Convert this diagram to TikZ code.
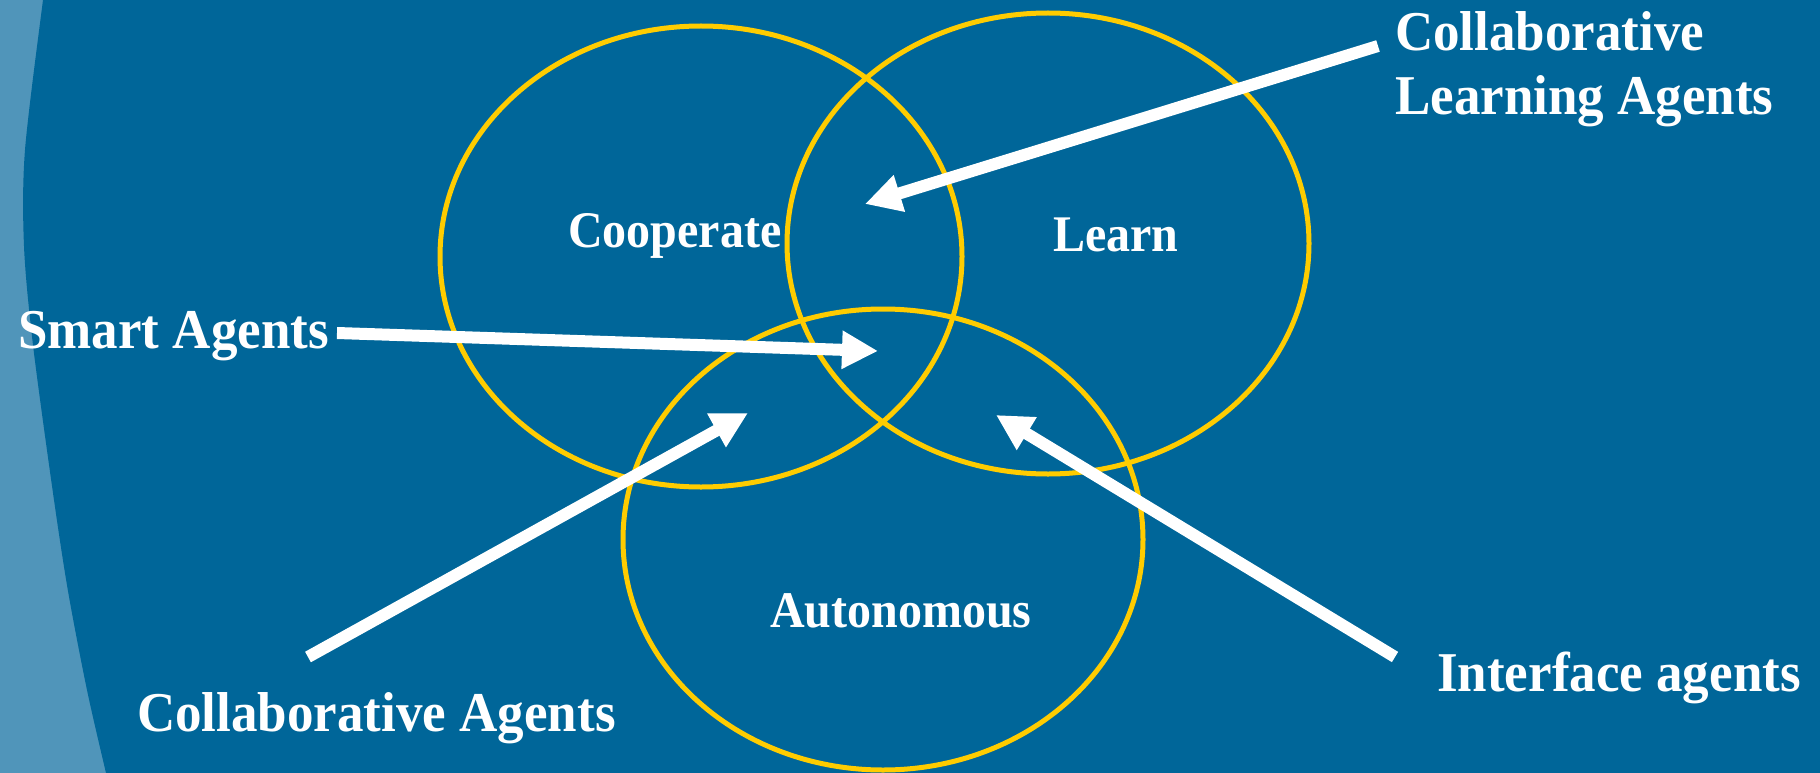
\documentclass[tikz,border=0pt]{standalone}
\usepackage{fontspec}
\setmainfont{Liberation Serif}
\usetikzlibrary{arrows.meta}
\definecolor{bgdark}{RGB}{0,102,153}
\definecolor{bglight}{RGB}{80,149,186}
\definecolor{venny}{RGB}{255,204,0}
\begin{document}
\begin{tikzpicture}[x=1pt,y=-1pt,
  ring/.style={draw=venny,line width=5pt},
  outerlabel/.style={text=white,font=\fontsize{53}{60}\selectfont\bfseries,inner sep=0pt,anchor=base west,yscale=1.06,transform shape},
  innerlabel/.style={text=white,font=\fontsize{48}{54}\selectfont\bfseries,inner sep=0pt,anchor=base west,yscale=1.07,transform shape},
  pointer/.style={draw=white,line width=12pt,-{Triangle[length=36pt,width=36pt]}}]
\useasboundingbox (0,0) rectangle (1820,773);
% background
\fill[bglight] (0,0) rectangle (1820,773);
\fill[bgdark] plot[smooth] coordinates {(44,-2) (43,0) (25,150) (24,246) (33,345) (53,493) (68,591) (87,690) (106,773) (107,776)} -- (1822,776) -- (1822,-2) -- cycle;
% venn rings
\draw[ring] (701,256.5) ellipse [x radius=261pt, y radius=230.5pt];
\draw[ring] (1048,243.5) ellipse [x radius=261pt, y radius=230.5pt];
\draw[ring] (883,539.5) ellipse [x radius=260pt, y radius=230.5pt];
% labels
\node[innerlabel] (coop) at (568,247) {Cooperate};
\node[innerlabel] (learn) at (1053,251) {Learn};
\node[innerlabel] (auto) at (770,627) {Autonomous};
\node[outerlabel] (smart) at (18,348) {Smart Agents};
\node[outerlabel] (cla1) at (1395,51) {Collaborative};
\node[outerlabel] (cla2) at (1395,115) {Learning Agents};
\node[outerlabel] (collab) at (137,731) {Collaborative Agents};
\node[outerlabel] (iface) at (1437,691) {Interface agents};
% arrow end points
\coordinate (claS) at (1378,46);
\coordinate (claT) at (865,204);
\coordinate (smartS) at (337,333);
\coordinate (smartT) at (878,351);
\coordinate (collabS) at (308,657);
\coordinate (collabT) at (748,413);
\coordinate (ifaceS) at (1395,657);
\coordinate (ifaceT) at (996,415);
% arrows
\draw[pointer] (claS) -- (claT);
\draw[pointer] (smartS) -- (smartT);
\draw[pointer] (collabS) -- (collabT);
\draw[pointer] (ifaceS) -- (ifaceT);
\end{tikzpicture}
\end{document}
